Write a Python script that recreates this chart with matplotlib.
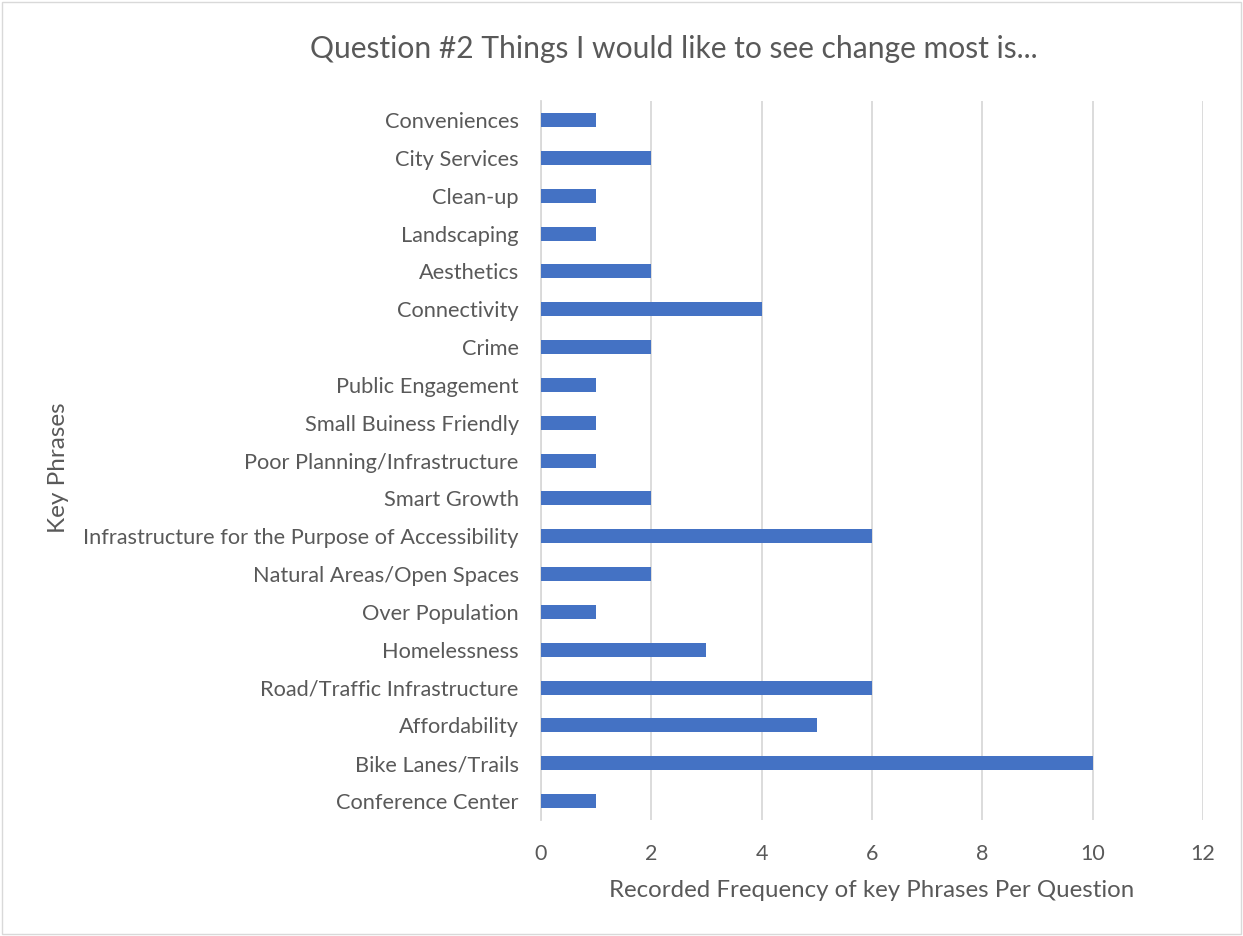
import matplotlib
matplotlib.use("Agg")
from matplotlib import pyplot as plt
from matplotlib.patches import Rectangle

# categories from top to bottom as shown
phrases = ["Conveniences", "City Services", "Clean-up", "Landscaping", "Aesthetics",
           "Connectivity", "Crime", "Public Engagement", "Small Buiness Friendly",
           "Poor Planning/Infrastructure", "Smart Growth",
           "Infrastructure for the Purpose of Accessibility",
           "Natural Areas/Open Spaces", "Over Population", "Homelessness",
           "Road/Traffic Infrastructure", "Affordability", "Bike Lanes/Trails",
           "Conference Center"]
counts = [1, 2, 1, 1, 2, 4, 2, 1, 1, 1, 2, 6, 2, 1, 3, 6, 5, 10, 1]
xticks = [0, 2, 4, 6, 8, 10, 12]

plt.rcParams['font.family'] = ['Lato', 'DejaVu Sans']
txt = '#595959'

fig = plt.figure(figsize=(12.43, 9.36), dpi=100)
ax = fig.add_axes([0.4352, 0.124, 0.5326, 0.768])

pos = list(range(len(phrases)))[::-1]
ax.barh(pos, counts, height=0.37, color='#4472C4', zorder=3)

ax.set_xlim(0, 12)
ax.set_ylim(-0.5, len(phrases) - 0.5)
ax.set_xticks(xticks)
ax.set_xticklabels([str(t) for t in xticks], fontsize=15.5, color=txt)
ax.set_yticks(pos)
ax.set_yticklabels(phrases, fontsize=15.7, color=txt)
ax.tick_params(axis='y', length=0, pad=16)
ax.tick_params(axis='x', length=0, pad=17)
ax.grid(axis='x', color='#D9D9D9', linewidth=1.3, zorder=0)
for s in ['top', 'right', 'bottom']:
    ax.spines[s].set_visible(False)
ax.spines['left'].set_color('#D9D9D9')
ax.spines['left'].set_linewidth(1.3)

ax.set_xlabel("Recorded Frequency of key Phrases Per Question", fontsize=17.3, color=txt, labelpad=12)
fig.text(0.047, 0.5, "Key Phrases", rotation=90, fontsize=17.5, color=txt, ha='center', va='center')
fig.text(0.542, 0.948, "Question #2 Things I would like to see change most is...", fontsize=21.6,
         color=txt, ha='center', va='center')

fig.patches.append(Rectangle((0.002, 0.002), 0.996, 0.996, transform=fig.transFigure,
                             fill=False, edgecolor='#D9D9D9', linewidth=1))

fig.savefig('out.png', dpi=100)
